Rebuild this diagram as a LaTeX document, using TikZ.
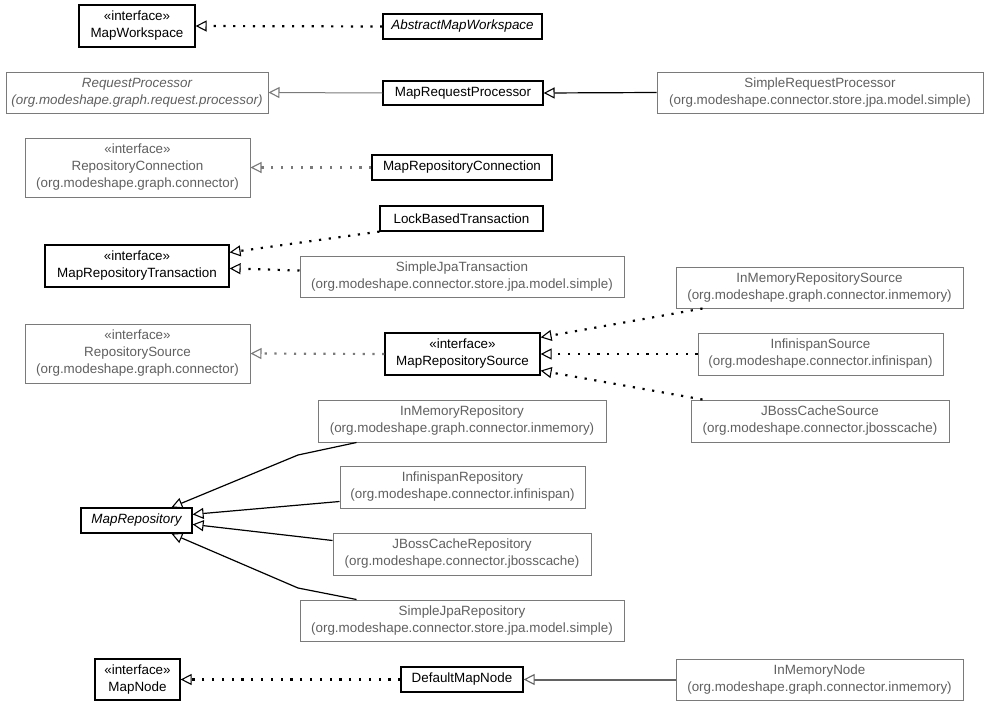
\documentclass[tikz,border=0pt]{standalone}
\usepackage{fontspec}
\setmainfont{Liberation Sans}
\usetikzlibrary{arrows.meta,calc}
\definecolor{gtext}{HTML}{606060}
\definecolor{gline}{HTML}{7A7A7A}
\begin{document}
\begin{tikzpicture}[x=1pt,y=-1pt,
  every node/.style={inner sep=0pt,align=center,font=\fontsize{13.4}{17}\selectfont},
  bk/.style={draw=black,line width=1.2pt,fill=white,text=black},
  gy/.style={draw=gline,line width=1pt,fill=white,text=gtext},
  sz/.style n args={2}{minimum width=#1pt,minimum height=#2pt},
  tri/.style={-{Triangle[length=11pt,width=11pt,fill=white,line width=1.1pt]}},
  dots/.style={tri,dash pattern=on 2.2pt off 7.6pt,line cap=butt,line width=2.2pt},
  solidl/.style={tri,line width=1.2pt}]
\useasboundingbox (0,0) rectangle (989,707);
% nodes
\node[bk,sz={116}{42}] (mw) at (137,26) {«interface»\\MapWorkspace};
\node[bk,sz={159}{25}] (amw) at (462.5,26.5) {\itshape AbstractMapWorkspace};
\node[gy,sz={262}{41}] (rp) at (137,92.5) {\itshape RequestProcessor\\\itshape (org.modeshape.graph.request.processor)};
\node[bk,sz={160}{24}] (mrp) at (463,93) {MapRequestProcessor};
\node[gy,sz={326}{41}] (srp) at (820,92.5) {SimpleRequestProcessor\\(org.modeshape.connector.store.jpa.model.simple)};
\node[gy,sz={225}{59}] (rc) at (137.5,167.5) {«interface»\\RepositoryConnection\\(org.modeshape.graph.connector)};
\node[bk,sz={180}{25}] (mrc) at (462,167.5) {MapRepositoryConnection};
\node[bk,sz={163}{25}] (lbt) at (461.5,218.5) {LockBasedTransaction};
\node[bk,sz={184}{42}] (mrt) at (137,266) {«interface»\\MapRepositoryTransaction};
\node[gy,sz={324}{41}] (sjt) at (462,276.5) {SimpleJpaTransaction\\(org.modeshape.connector.store.jpa.model.simple)};
\node[gy,sz={287}{41}] (imrs) at (819.5,287.5) {InMemoryRepositorySource\\(org.modeshape.graph.connector.inmemory)};
\node[gy,sz={225}{59}] (rs) at (137.5,353.5) {«interface»\\RepositorySource\\(org.modeshape.graph.connector)};
\node[bk,sz={155}{42}] (mrs) at (462.5,354) {«interface»\\MapRepositorySource};
\node[gy,sz={245}{42}] (is) at (820.5,354) {InfinispanSource\\(org.modeshape.connector.infinispan)};
\node[gy,sz={258}{42}] (jbs) at (820,421) {JBossCacheSource\\(org.modeshape.connector.jbosscache)};
\node[gy,sz={288}{42}] (imr) at (462,421) {InMemoryRepository\\(org.modeshape.graph.connector.inmemory)};
\node[gy,sz={245}{42}] (ir) at (462.5,487) {InfinispanRepository\\(org.modeshape.connector.infinispan)};
\node[bk,sz={111}{25}] (mr) at (136.5,520.5) {\itshape MapRepository};
\node[gy,sz={258}{42}] (jbr) at (462,554) {JBossCacheRepository\\(org.modeshape.connector.jbosscache)};
\node[gy,sz={324}{41}] (sjr) at (462,620.5) {SimpleJpaRepository\\(org.modeshape.connector.store.jpa.model.simple)};
\node[bk,sz={85}{41}] (mn) at (137.5,679.5) {«interface»\\MapNode};
\node[bk,sz={122}{25}] (dmn) at (462,679.5) {DefaultMapNode};
\node[gy,sz={287}{41}] (imn) at (819.5,679.5) {InMemoryNode\\(org.modeshape.graph.connector.inmemory)};
% edges
\draw[dots] (amw.west) -- (mw.east);
\draw[solidl,draw=gline,line width=1pt] (mrp.west) -- (rp.east);
\draw[solidl] (srp.west) -- (mrp.east);
\draw[dots,draw=gline] (mrc.west) -- (rc.east);
\draw[dots] (lbt.south west) -- ($(mrt.north east)+(0,8)$);
\draw[dots] ($(sjt.north west)+(0,15)$) -- ($(mrt.north east)+(0,24)$);
\draw[dots,draw=gline] (mrs.west) -- (rs.east);
\draw[dots] ($(imrs.south west)+(27,0)$) -- ($(mrs.north east)+(0,5)$);
\draw[dots] (is.west) -- (mrs.east);
\draw[dots] ($(jbs.north west)+(12,0)$) -- ($(mrs.south east)+(0,-5)$);
\draw[solidl] ($(imr.south west)+(39,0)$) -- (298,455) -- ($(mr.north west)+(91,0)$);
\draw[solidl] ($(ir.north west)+(0,36)$) -- ($(mr.north east)+(0,7)$);
\draw[solidl] ($(jbr.north west)+(0,8)$) -- ($(mr.north east)+(0,17)$);
\draw[solidl] ($(sjr.north west)+(57,0)$) -- (298,588) -- ($(mr.south west)+(91,0)$);
\draw[dots] (dmn.west) -- (mn.east);
\draw[solidl,draw=gline!80!black,line width=2pt] (imn.west) -- (dmn.east);
\end{tikzpicture}
\end{document}
